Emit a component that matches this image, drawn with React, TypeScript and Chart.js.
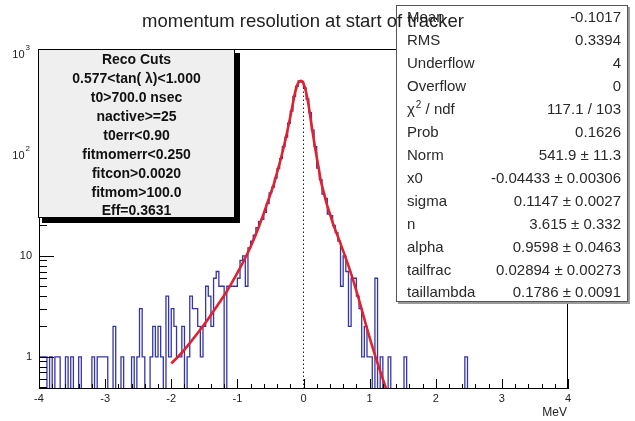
import { useEffect, useRef } from "react";
import { Chart, registerables } from "chart.js";

Chart.register(...registerables);

// Histogram definition: 200 bins over [-4, 4] MeV
const X_LO = -4;
const X_HI = 4;
const BIN_WIDTH = 0.04;
const Y_MIN = 0.48;
const Y_MAX = 1120;

// Entries per bin, left to right
const counts: number[] = [
  1, 1, 1, 0, 1, 0, 1, 1, 0, 0,
  1, 0, 1, 0, 0, 1, 0, 0, 0, 0,
  1, 0, 1, 1, 1, 1, 0, 0, 2, 0,
  0, 1, 0, 0, 0, 1, 0, 1, 3, 1,
  0, 0, 1, 2, 1, 2, 1, 0, 4, 1,
  3, 2, 1, 1, 2, 0, 1, 4, 3, 3,
  2, 1, 2, 5, 4, 2, 6, 7, 5, 5,
  0, 5, 5, 5, 5, 6, 9, 10, 5, 12,
  14, 16, 19, 22, 23, 27, 33, 42, 48, 59,
  73, 92, 121, 150, 206, 272, 380, 478, 540, 525,
  462, 358, 262, 176, 121, 74, 57, 41, 37, 26,
  25, 20, 17, 14, 5, 10, 7, 2, 6, 6,
  4, 3, 1, 2, 1, 1, 0, 6, 0, 1,
  0, 0, 1, 0, 0, 0, 0, 0, 1, 0,
  0, 0, 0, 0, 0, 0, 0, 0, 0, 0,
  0, 0, 0, 0, 0, 0, 0, 0, 0, 0,
  0, 1, 0, 0, 0, 0, 0, 0, 0, 0,
  0, 0, 0, 0, 0, 0, 0, 0, 0, 0,
  0, 0, 0, 0, 0, 0, 0, 0, 0, 0,
  0, 0, 0, 0, 0, 0, 0, 0, 0, 0,
];

// Fitted line shape (sampled)
const fitX = [
  -2.0, -1.9, -1.8, -1.7, -1.6, -1.5, -1.4, -1.3, -1.2, -1.1, -1.0, -0.9, -0.8,
  -0.7, -0.6, -0.5, -0.45, -0.4, -0.35, -0.3, -0.25, -0.2, -0.16, -0.12, -0.08,
  -0.044, -0.01, 0.02, 0.05, 0.08, 0.11, 0.14, 0.17, 0.2, 0.23, 0.26, 0.3, 0.35,
  0.4, 0.45, 0.5, 0.6, 0.7, 0.8, 0.9, 1.0, 1.1, 1.2, 1.25,
];
const fitY = [
  0.86, 1.0, 1.18, 1.42, 1.72, 2.1, 2.6, 3.25, 4.05, 5.2, 6.8, 9.0, 12.3,
  17.6, 26.5, 41, 51, 67, 88, 119, 166, 237, 325, 436, 516,
  542, 528, 466, 388, 302, 222, 165, 124, 95, 74, 56, 44, 33,
  26, 20.5, 16.8, 11.2, 7.3, 4.5, 2.65, 1.55, 0.95, 0.6, 0.48,
];

// Vertical reference line at zero, up to the fitted normalisation
const zeroLineX = 0;
const zeroLineTop = 541.9;

const xTickLabels = [-4, -3, -2, -1, 0, 1, 2, 3, 4];
const X_MINOR_STEP = 0.2;
const yDecadeExponents = [0, 1, 2, 3];

const titleText = "momentum resolution at start of tracker";
const xAxisTitle = "MeV";

const cutLines = [
  "Reco Cuts",
  "0.577<tan( \u03bb)<1.000",
  "t0>700.0 nsec",
  "nactive>=25",
  "t0err<0.90",
  "fitmomerr<0.250",
  "fitcon>0.0020",
  "fitmom>100.0",
  "Eff=0.3631",
];

const statNames = [
  "Mean", "RMS", "Underflow", "Overflow", "CHI2", "Prob", "Norm", "x0",
  "sigma", "n", "alpha", "tailfrac", "taillambda",
];
const statValues = [
  "-0.1017", "0.3394", "4", "0", "117.1 / 103", "0.1626", "541.9 \u00b1 11.3",
  "-0.04433 \u00b1 0.00306", "0.1147 \u00b1 0.0027", "3.615 \u00b1 0.332",
  "0.9598 \u00b1 0.0463", "0.02894 \u00b1 0.00273", "0.1786 \u00b1 0.0091",
];

const FONT = '"Liberation Sans", Arial, Helvetica, sans-serif';

const rootDecor = {
  id: "rootDecor",
  afterDatasetsDraw(chart: any) {
    const { ctx, chartArea: a, scales } = chart;
    const xs = scales.x;
    const ys = scales.y;
    const L = Math.round(a.left);
    const R = Math.round(a.right);
    const T = Math.round(a.top);
    const B = Math.round(a.bottom);
    ctx.save();

    // frame
    ctx.strokeStyle = "#000";
    ctx.lineWidth = 1;
    ctx.strokeRect(L + 0.5, T + 0.5, R - L - 1, B - T - 1);

    // x ticks (inside the frame)
    ctx.beginPath();
    const nMinor = Math.round((X_HI - X_LO) / X_MINOR_STEP);
    for (let k = 0; k <= nMinor; k++) {
      const v = X_LO + k * X_MINOR_STEP;
      const px = Math.round(xs.getPixelForValue(v)) + 0.5;
      const major = Math.abs(v - Math.round(v)) < 1e-6;
      ctx.moveTo(px, B);
      ctx.lineTo(px, B - (major ? 10 : 5));
    }
    // y ticks (log decades)
    for (let e = -1; e <= 3; e++) {
      for (let m = 1; m <= 9; m++) {
        const v = m * Math.pow(10, e);
        if (v < Y_MIN || v > Y_MAX) continue;
        const py = Math.round(ys.getPixelForValue(v)) + 0.5;
        ctx.moveTo(L, py);
        ctx.lineTo(L + (m === 1 ? 15 : 8), py);
      }
    }
    ctx.stroke();

    // x labels
    ctx.fillStyle = "#222";
    ctx.font = `11px ${FONT}`;
    ctx.textAlign = "center";
    ctx.textBaseline = "middle";
    for (const v of xTickLabels) {
      ctx.fillText(String(v), xs.getPixelForValue(v), B + 10);
    }
    ctx.textAlign = "right";
    ctx.font = `12px ${FONT}`;
    ctx.fillText(xAxisTitle, R - 1, B + 24);

    // y labels
    for (const e of yDecadeExponents) {
      const py = ys.getPixelForValue(Math.pow(10, e));
      const rightEdge = 32;
      ctx.font = `11px ${FONT}`;
      ctx.textAlign = "right";
      if (e < 2) {
        ctx.fillText(e === 0 ? "1" : "10", rightEdge, py);
      } else {
        ctx.font = `8px ${FONT}`;
        const sup = String(e);
        const sw = ctx.measureText(sup).width;
        ctx.textAlign = "left";
        ctx.fillText(sup, rightEdge - sw - 2, py - 6);
        ctx.font = `11px ${FONT}`;
        ctx.textAlign = "right";
        ctx.fillText("10", rightEdge - sw - 3, py + 1);
      }
    }

    // cuts box with shadow
    const cb = { l: 38, t: 49, r: 235, b: 218 };
    ctx.fillStyle = "#000";
    ctx.fillRect(cb.r, cb.t + 4, 5, cb.b - cb.t + 1);
    ctx.fillRect(cb.l + 4, cb.b, cb.r - cb.l + 1, 5);
    ctx.fillStyle = "#efefef";
    ctx.fillRect(cb.l, cb.t, cb.r - cb.l, cb.b - cb.t);
    ctx.strokeStyle = "#000";
    ctx.strokeRect(cb.l + 0.5, cb.t + 0.5, cb.r - cb.l - 1, cb.b - cb.t - 1);
    ctx.fillStyle = "#111";
    ctx.font = `bold 14px ${FONT}`;
    ctx.textAlign = "center";
    ctx.textBaseline = "middle";
    cutLines.forEach((s, i) => {
      ctx.fillText(s, (cb.l + cb.r) / 2, 60 + i * 18.95);
    });

    // statistics box
    const sb = { l: 396, t: 5, r: 628, b: 302 };
    ctx.fillStyle = "#9a9a9a";
    ctx.fillRect(sb.l + 2, sb.b, sb.r - sb.l, 2);
    ctx.fillRect(sb.r, sb.t + 2, 2, sb.b - sb.t);
    ctx.fillStyle = "#fff";
    ctx.fillRect(sb.l, sb.t, sb.r - sb.l, sb.b - sb.t);
    ctx.strokeStyle = "#555";
    ctx.strokeRect(sb.l + 0.5, sb.t + 0.5, sb.r - sb.l - 1, sb.b - sb.t - 1);
    ctx.fillStyle = "#2a2a2a";
    ctx.textBaseline = "middle";
    statNames.forEach((name, i) => {
      const py = 18.3 + i * 22.92;
      ctx.font = `15px ${FONT}`;
      ctx.textAlign = "left";
      if (name === "CHI2") {
        const x0 = 407;
        ctx.fillText("\u03c7", x0, py);
        const cw = ctx.measureText("\u03c7").width;
        ctx.font = `10px ${FONT}`;
        ctx.fillText("2", x0 + cw + 1, py - 5);
        const sw = ctx.measureText("2").width;
        ctx.font = `15px ${FONT}`;
        ctx.fillText(" / ndf", x0 + cw + sw + 1, py);
      } else {
        ctx.fillText(name, 407, py);
      }
      ctx.textAlign = "right";
      ctx.fillText(statValues[i], 621, py);
    });

    // title
    ctx.fillStyle = "#222";
    ctx.font = `18.5px ${FONT}`;
    ctx.textAlign = "center";
    ctx.textBaseline = "alphabetic";
    ctx.fillText(titleText, 303, 27);

    ctx.restore();
  },
};

export default function App() {
  const canvasRef = useRef<HTMLCanvasElement | null>(null);

  useEffect(() => {
    const canvas = canvasRef.current;
    if (!canvas) return;

    const histPoints: { x: number; y: number }[] = [];
    counts.forEach((c, i) => {
      histPoints.push({ x: X_LO + i * BIN_WIDTH, y: c > 0 ? c : Y_MIN });
    });
    histPoints.push({ x: X_HI, y: Y_MIN });

    const fitPoints = fitX.map((x, i) => ({ x, y: fitY[i] }));

    const chart = new Chart(canvas, {
      type: "line",
      data: {
        datasets: [
          {
            label: "hist",
            data: histPoints,
            stepped: true,
            borderColor: "#3535a8",
            borderWidth: 1.3,
            pointRadius: 0,
            fill: false,
            order: 3,
          },
          {
            label: "zero",
            data: [
              { x: zeroLineX, y: Y_MIN },
              { x: zeroLineX, y: zeroLineTop },
            ],
            borderColor: "#222",
            borderWidth: 1,
            borderDash: [1.5, 2.5],
            pointRadius: 0,
            fill: false,
            order: 2,
          },
          {
            label: "fit",
            data: fitPoints,
            borderColor: "#e0222c",
            borderWidth: 2.6,
            pointRadius: 0,
            fill: false,
            cubicInterpolationMode: "monotone",
            order: 1,
          },
        ],
      },
      options: {
        responsive: false,
        animation: false,
        devicePixelRatio: 1,
        layout: { padding: { left: 39, right: 67, top: 49, bottom: 32 } },
        scales: {
          x: { type: "linear", min: X_LO, max: X_HI, display: false },
          y: { type: "logarithmic", min: Y_MIN, max: Y_MAX, display: false },
        },
        plugins: {
          legend: { display: false },
          tooltip: { enabled: false },
          title: { display: false },
        },
      },
      plugins: [rootDecor],
    });

    return () => chart.destroy();
  }, []);

  return (
    <div
      style={{
        position: "absolute",
        left: 0,
        top: 0,
        width: 635,
        height: 421,
        background: "#fff",
      }}
    >
      <canvas ref={canvasRef} width={635} height={421} style={{ display: "block" }} />
    </div>
  );
}
